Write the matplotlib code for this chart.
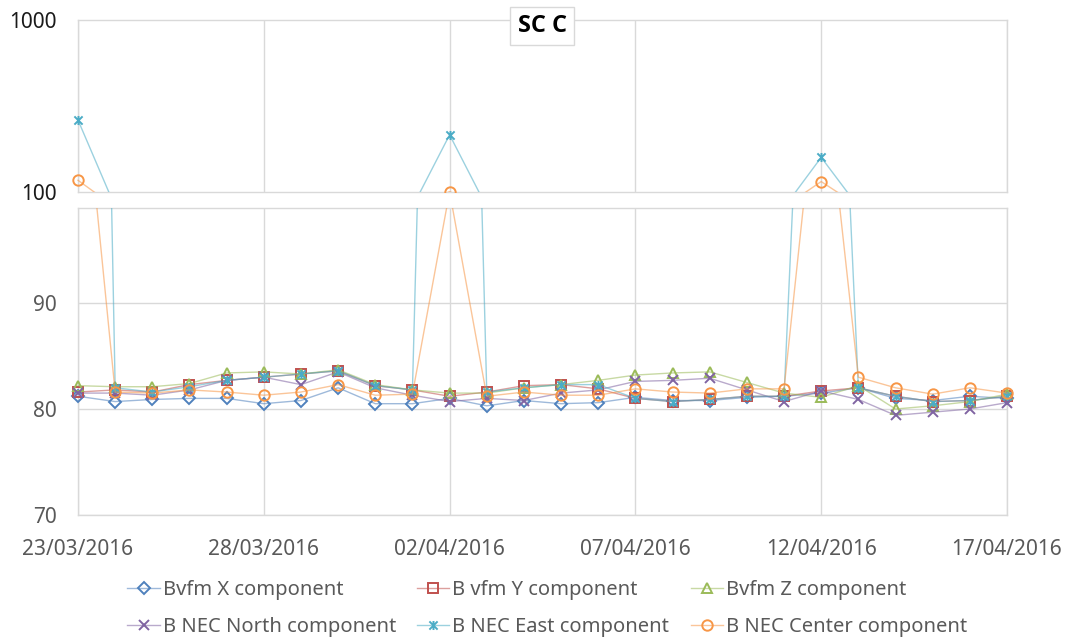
import matplotlib
matplotlib.use("Agg")
import matplotlib.pyplot as plt
from matplotlib.path import Path
from matplotlib.patches import Rectangle

plt.rcParams['font.family'] = ['Noto Sans', 'DejaVu Sans']

dates = ["23/03/2016", "24/03/2016", "25/03/2016", "26/03/2016", "27/03/2016",
         "28/03/2016", "29/03/2016", "30/03/2016", "31/03/2016", "01/04/2016",
         "02/04/2016", "03/04/2016", "04/04/2016", "05/04/2016", "06/04/2016",
         "07/04/2016", "08/04/2016", "09/04/2016", "10/04/2016", "11/04/2016",
         "12/04/2016", "13/04/2016", "14/04/2016", "15/04/2016", "16/04/2016",
         "17/04/2016"]

bvfm_x = [81.2, 80.7, 80.9, 81.0, 81.0, 80.5, 80.8, 82.0, 80.5, 80.5,
          81.0, 80.3, 80.8, 80.5, 80.6, 81.1, 80.8, 80.8, 81.1, 81.2,
          81.5, 82.0, 81.0, 80.8, 81.2, 81.0]
bvfm_y = [81.6, 81.8, 81.6, 82.3, 82.7, 83.0, 83.3, 83.6, 82.2, 81.8,
          81.2, 81.6, 82.2, 82.3, 81.9, 81.0, 80.7, 80.9, 81.2, 81.2,
          81.7, 82.0, 81.2, 80.7, 80.8, 81.2]
bvfm_z = [82.2, 82.1, 82.1, 82.4, 83.4, 83.5, 83.3, 83.7, 82.3, 81.8,
          81.5, 81.5, 82.0, 82.3, 82.7, 83.2, 83.4, 83.5, 82.5, 81.5,
          81.1, 82.2, 80.0, 80.3, 80.7, 81.4]
nec_north = [81.5, 81.5, 81.3, 81.8, 82.7, 83.0, 82.3, 83.5, 82.0, 81.3,
             80.7, 81.0, 80.8, 81.5, 81.8, 82.6, 82.7, 82.9, 81.8, 80.7,
             81.7, 80.9, 79.4, 79.7, 80.0, 80.6]
nec_east = [262, 82.0, 81.6, 82.1, 82.7, 83.0, 83.3, 83.6, 82.2, 81.8,
            215, 81.6, 82.0, 82.3, 82.3, 81.0, 80.7, 80.9, 81.2, 81.2,
            159, 82.0, 81.2, 80.7, 80.8, 81.2]
nec_center = [117, 81.6, 81.5, 81.8, 81.6, 81.3, 81.6, 82.3, 81.3, 81.4,
              100.5, 81.2, 81.6, 81.3, 81.3, 81.9, 81.6, 81.5, 81.9, 81.9,
              115, 83.0, 82.0, 81.4, 82.0, 81.5]

labels = ["Bvfm X component", "B vfm Y component", "Bvfm Z component",
          "B NEC North component", "B NEC East component", "B NEC Center component"]
series = [bvfm_x, bvfm_y, bvfm_z, nec_north, nec_east, nec_center]
colors = ["#4F81BD", "#C0504D", "#9BBB59", "#8064A2", "#4BACC6", "#F79646"]

star = Path([(-1, -1), (1, 1), (-1, 1), (1, -1), (0, -1.1), (0, 1.1)],
            [Path.MOVETO, Path.LINETO, Path.MOVETO, Path.LINETO, Path.MOVETO, Path.LINETO])
markers = ["D", "s", "^", "x", star, "o"]
msizes = [6.0, 7.0, 7.5, 7.0, 6.5, 7.5]

x = list(range(len(dates)))
grid_c = "#D9D9D9"

fig = plt.figure(figsize=(10.71, 6.42), dpi=100)
L, R = 78 / 1071, 1007 / 1071
ax_top = fig.add_axes([L, 1 - 192 / 642, R - L, (192 - 20) / 642])
ax_bot = fig.add_axes([L, 1 - 515 / 642, R - L, (515 - 208) / 642])


def hex_rgba(h, a):
    h = h.lstrip('#')
    return tuple(int(h[i:i + 2], 16) / 255 for i in (0, 2, 4)) + (a,)


handles = []
for ax in (ax_top, ax_bot):
    for s, c, m, ms, lab in zip(series, colors, markers, msizes, labels):
        ln, = ax.plot(x, s, color=hex_rgba(c, 0.55), lw=1.0, marker=m, markersize=ms,
                      markerfacecolor='none', markeredgecolor=c, markeredgewidth=1.4,
                      label=lab, zorder=3)
        clip = Rectangle((-0.03, 0), 1.06, 1, transform=ax.transAxes)
        ln.set_clip_path(clip)
        if ax is ax_bot:
            handles.append(ln)

# top panel
ax_top.set_yscale('log')
ax_top.set_ylim(100, 1000)
ax_top.set_yticks([100, 1000])
ax_top.set_yticklabels(["100", "1000"])
ax_top.yaxis.set_minor_locator(matplotlib.ticker.NullLocator())
ax_top.tick_params(axis='y', length=0, pad=15, labelsize=15, labelcolor='#1a1a1a')
ax_top.set_xlim(0, 25)
ax_top.set_xticks([0, 5, 10, 15, 20, 25])
ax_top.tick_params(axis='x', length=0, labelbottom=False)
ax_top.grid(axis='x', color=grid_c, lw=1.0)
ax_top.set_axisbelow(True)

# bottom panel
ax_bot.set_ylim(70, 98.96)
ax_bot.set_yticks([70, 80, 90])
ax_bot.set_xlim(0, 25)
ax_bot.set_xticks([0, 5, 10, 15, 20, 25])
ax_bot.set_xticklabels([dates[i] for i in [0, 5, 10, 15, 20, 25]])
ax_bot.tick_params(axis='y', length=0, pad=15, labelsize=15, labelcolor='#595959')
ax_bot.tick_params(axis='x', length=0, pad=17, labelsize=15, labelcolor='#595959')
ax_bot.grid(True, color=grid_c, lw=1.0)
ax_bot.set_axisbelow(True)

for ax in (ax_top, ax_bot):
    for sp in ax.spines.values():
        sp.set_color(grid_c)
        sp.set_linewidth(1.0)

# title
fig.text(542 / 1071, 1 - 26 / 642, "SC C", ha='center', va='center', fontsize=17,
         fontweight='bold', family=['Open Sans', 'DejaVu Sans'], color='black',
         bbox=dict(boxstyle='square,pad=0.3', facecolor='white', edgecolor=grid_c, lw=1.0),
         zorder=10)

# legend (row-wise order in 3 columns)
order = [0, 3, 1, 4, 2, 5]
fig.legend([handles[i] for i in order], [labels[i] for i in order],
           loc='lower center', bbox_to_anchor=(0.511, -0.021), ncol=3, frameon=False,
           fontsize=14.5, labelcolor='#595959', handlelength=1.6, handletextpad=0.15,
           columnspacing=1.05, labelspacing=0.85)

fig.savefig("out.png", dpi=100)
